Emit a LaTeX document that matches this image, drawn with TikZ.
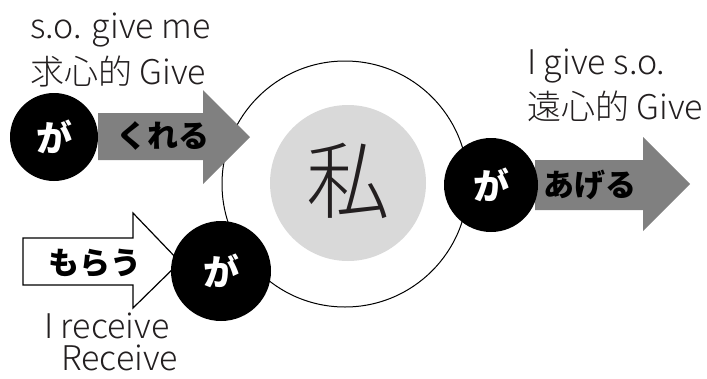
\documentclass[tikz,border=0pt]{standalone}
\usepackage{fontspec}
\setmainfont{Noto Sans CJK JP}
\newfontfamily\lightfont{Noto Sans CJK JP Light}
\newfontfamily\heavyfont{Noto Sans CJK JP Black}
\definecolor{txt}{HTML}{231F20}
\definecolor{arrgray}{HTML}{808080}
\definecolor{inner}{HTML}{D9D9D9}
\tikzset{
  lbl/.style={font=\lightfont\fontsize{34}{29}\selectfont, text=txt, inner sep=0pt, align=left},
  ga/.style={circle, fill=black, minimum size=#1, inner sep=0pt},
  gatext/.style={font=\heavyfont\fontsize{36}{38}\selectfont, text=white},
  verb/.style={font=\heavyfont\fontsize{31}{32}\selectfont, text=black, inner sep=0pt},
  grayarrow/.style={fill=arrgray},
}
\begin{document}
\begin{tikzpicture}[x=1pt,y=-1pt]
\useasboundingbox (0,0) rectangle (707,378);
% big circle
\node[circle, draw=black, line width=1pt, fill=white, minimum size=246pt, inner sep=0pt] (me) at (345,184) {};
\node[circle, fill=inner, minimum size=156pt, inner sep=0pt] (core) at (348,183) {};
\node[font=\lightfont\fontsize{84}{84}\selectfont, text=txt, inner sep=0pt] (watashi) at (348,181) {私};
% kureru arrow
\fill[grayarrow] (98,113) -- (203,113) -- (203,90) -- (250,137) -- (203,184) -- (203,160) -- (98,160) -- cycle;
\node[verb] (kureru) at (163,136) {くれる};
\node[ga=88pt] (ga1) at (54,137) {};
\node[gatext] (ga1t) at (ga1) {が};
% ageru arrow
\fill[grayarrow] (535,160) -- (643,160) -- (643,137) -- (690,184) -- (643,231) -- (643,210) -- (535,210) -- cycle;
\node[verb] (ageru) at (590,185) {あげる};
\node[ga=94pt] (ga2) at (491,185) {};
\node[gatext] (ga2t) at (ga2) {が};
% morau arrow
\draw[fill=white, line width=1.2pt, line join=miter] (23,238) -- (133,238) -- (133,213) -- (180,262) -- (133,308) -- (133,285) -- (23,285) -- cycle;
\node[verb] (morau) at (95,263) {もらう};
\node[ga=100pt] (ga3) at (221,271) {};
\node[gatext] (ga3t) at (ga3) {が};
% labels
\node[lbl, anchor=west] (l1) at (30,30) {s.o. give me};
\node[lbl, anchor=west] (l2) at (30,72) {求心的 Give};
\node[lbl, anchor=west] (l3) at (527,66) {I give s.o.};
\node[lbl, anchor=west] (l4) at (527,106) {遠心的 Give};
\node[lbl, anchor=west] (l5) at (44,342) {I receive\\[3pt]\hspace*{17pt}Receive};
\end{tikzpicture}
\end{document}
